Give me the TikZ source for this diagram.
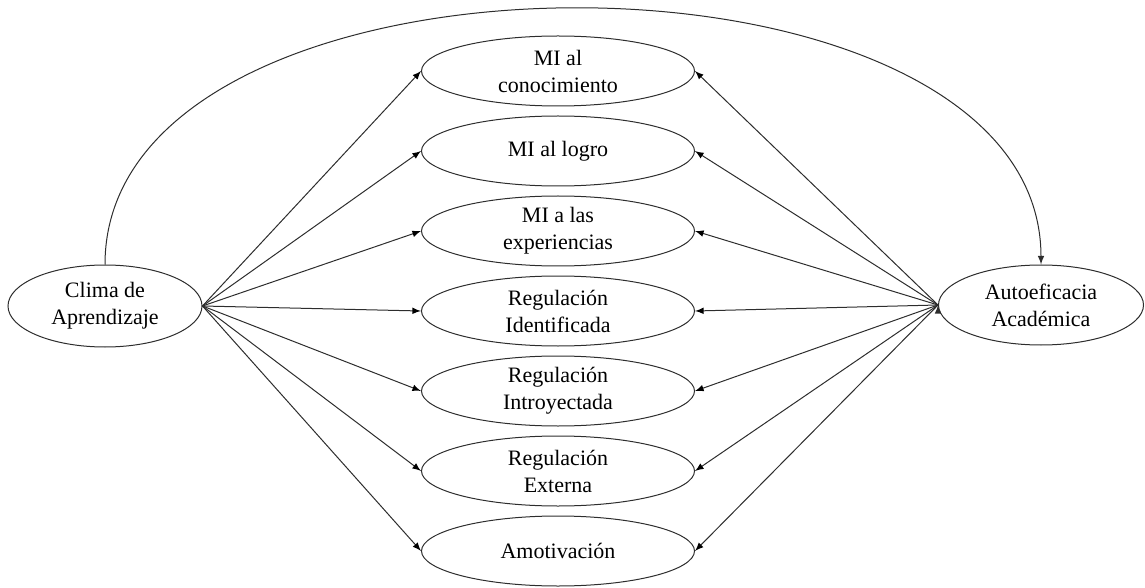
\documentclass[tikz,border=0pt]{standalone}
\usepackage{fontspec}
\setmainfont{Liberation Serif}
\usetikzlibrary{arrows,shapes}
\definecolor{line_gray}{RGB}{45,45,45}

\begin{document}
\begin{tikzpicture}[->,>=latex,x=0.5pt,y=-0.5pt,line width=0.5pt]
    \tikzstyle{factor}=[draw=line_gray, ellipse, inner sep=0pt, align=center, text=black, font=\fontsize{11}{13.5}\selectfont]
    \tikzstyle{factorside}=[style=factor, minimum width=97pt, minimum height=41pt]
    \tikzstyle{factormid}=[style=factor, minimum width=136.5pt, minimum height=35pt]
    \useasboundingbox (0,0) rectangle (1145,588);

    \node[factorside] (C) at (105,306) {Clima de\\Aprendizaje};
    \node[factorside,minimum width=102.5pt,minimum height=40pt] (A) at (1041,305) {Autoeficacia\\Académica};
    \node[factormid] (M1) at (558,71)  {MI al\\conocimiento};
    \node[factormid] (M2) at (558,151) {MI al logro};
    \node[factormid] (M3) at (558,231) {MI a las\\experiencias};
    \node[factormid] (M4) at (558,311) {Regulación\\Identificada};
    \node[factormid] (M5) at (558,391) {Regulación\\Introyectada};
    \node[factormid] (M6) at (558,471) {Regulación\\Externa};
    \node[factormid] (M7) at (558,551) {Amotivación};

    \path[draw=line_gray]
     (C.east) edge (M1.west)
     (C.east) edge (M2.west)
     (C.east) edge (M3.west)
     (C.east) edge (M4.west)
     (C.east) edge (M5.west)
     (C.east) edge (M6.west)
     (C.east) edge (M7.west)
     (A.west) edge (M1.east)
     (A.west) edge (M2.east)
     (A.west) edge (M3.east)
     (A.west) edge (M4.east)
     (A.west) edge (M5.east)
     (A.west) edge (M6.east)
     (A.west) edge (M7.east);
    \draw[line_gray] (C.north) .. controls +(0,-341) and +(0,-341) .. (A.north);
  \end{tikzpicture}
\end{document}
